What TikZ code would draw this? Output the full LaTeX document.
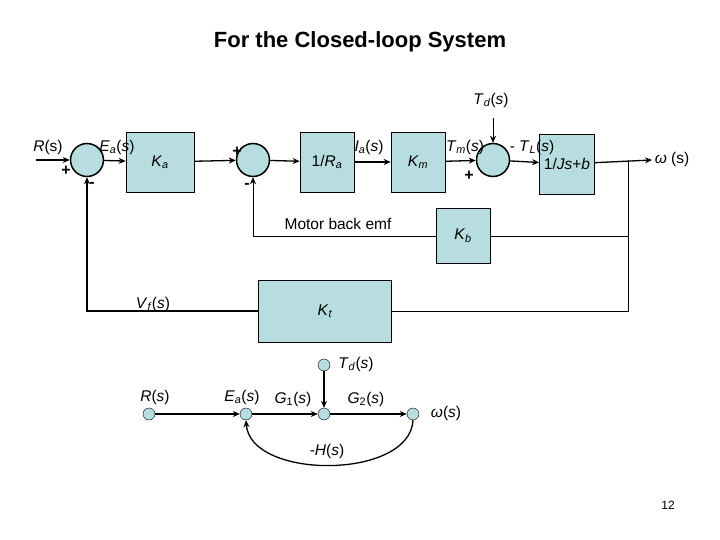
\documentclass[tikz,border=0pt]{standalone}
\usepackage{fontspec}
\setmainfont{Liberation Sans}
\usepackage{tikz}
\usetikzlibrary{arrows.meta, positioning}
\definecolor{boxblue}{RGB}{183,221,224}
\newcommand{\sigl}[2]{\textit{#1}\textsubscript{\textit{#2}}(\textit{s})}
\begin{document}
\begin{tikzpicture}[x=1pt,y=-1pt,>={Stealth[length=7pt,width=6pt]},line width=1.3pt,
        every node/.style={font=\fontsize{15.5}{18}\selectfont},
        block/.style={draw,fill=boxblue,line width=0.6pt,minimum height=60pt,inner sep=0pt},
        sum/.style={draw,circle,fill=boxblue,line width=1.5pt,minimum size=33pt,inner sep=0pt},
        sfg/.style={draw,circle,fill=boxblue,thin,minimum size=12pt,inner sep=0pt},
        lbl/.style={inner sep=1pt},
        sgn/.style={inner sep=1pt,font=\bfseries\fontsize{16}{18}\selectfont}]
        \useasboundingbox (0,0) rectangle (720,540);
        \node[font=\fontsize{22}{26}\selectfont\bfseries] (title) at (360,42) {For the Closed-loop System};

        % upper block diagram
        \node[sum] (s1) at (87,160) {};
        \node[block,minimum width=68pt] (ka) at (160,162) {\textit{K}\textsubscript{\textit{a}}};
        \node[sum] (s2) at (253,160) {};
        \node[block,minimum width=54pt] (ra) at (327,162) {1/\textit{R}\textsubscript{\textit{a}}};
        \node[block,minimum width=54pt] (km) at (418,162) {\textit{K}\textsubscript{\textit{m}}};
        \node[sum] (s3) at (493,160) {};
        \node[block,minimum width=55pt] (js) at (567,164) {1/\textit{Js}+\textit{b}};
        \node[block,minimum width=54pt,minimum height=55pt] (kb) at (463,236) {\textit{K}\textsubscript{\textit{b}}};
        \node[block,minimum width=133pt,minimum height=62pt] (kt) at (325,311) {\textit{K}\textsubscript{\textit{t}}};
        \coordinate (in) at (36,160);
        \coordinate (out) at (652,160);
        \coordinate (tap) at (628,160);
        \coordinate (td) at (493,118);

        \draw[->] (in) -- (s1);
        \draw[->] (s1) -- (ka);
        \draw[->] (ka) -- (s2);
        \draw[->] (s2) -- (ra);
        \draw[->] (ra) -- (km);
        \draw[->] (km) -- (s3);
        \draw[->] (s3) -- (js);
        \draw[->] (js) -- (out);
        \draw[->,thin] (td) -- (s3);
        \draw[thin] (tap) |- (kb);
        \draw[->,thin] (kb) -| (s2);
        \draw[thin] (tap) |- (kt);
        \draw[->] (kt) -| (s1);

        \node[lbl] at (491,100) {\sigl{T}{d}};
        \node[lbl] at (48,147) {\textit{R}(s)};
        \node[lbl] at (117,147) {\sigl{E}{a}};
        \node[lbl] at (369,147) {\sigl{I}{a}};
        \node[lbl] at (465,147) {\sigl{T}{m}};
        \node[lbl] at (532,147) {- \sigl{T}{L}};
        \node[lbl] at (672,159) {\textit{ω} (s)};
        \node[sgn] at (66,171) {+};
        \node[sgn] at (92,185) {-};
        \node[sgn] at (237,152) {+};
        \node[sgn] at (247,186) {-};
        \node[sgn] at (469,176) {+};
        \node[lbl] at (338,224) {Motor back emf};
        \node[lbl] at (153,304) {\sigl{V}{f}};

        % signal flow graph
        \node[sfg] (nr) at (149,414) {};
        \node[sfg] (ne) at (246,414) {};
        \node[sfg] (nm) at (324,414) {};
        \node[sfg] (nw) at (413,414) {};
        \node[sfg] (nd) at (324,365) {};
        \draw[->] (nr) -- (ne);
        \draw[->] (ne) -- (nm);
        \draw[->] (nm) -- (nw);
        \draw[->] (nd) -- (nm);
        \draw[->] (nw.south) .. controls (410,480) and (250,480) .. (ne.south);
        \node[lbl] at (155,397) {\textit{R}(\textit{s})};
        \node[lbl] at (242,397) {\sigl{E}{a}};
        \node[lbl] at (293,399) {\textit{G}\textsubscript{1}(\textit{s})};
        \node[lbl] at (366,399) {\textit{G}\textsubscript{2}(\textit{s})};
        \node[lbl] at (446,413) {\textit{ω}(\textit{s})};
        \node[lbl] at (356,364) {\sigl{T}{d}};
        \node[lbl] at (327,451) {-\textit{H}(\textit{s})};
        \node[font=\fontsize{12}{14}\selectfont] at (668,505) {12};
\end{tikzpicture}
\end{document}
